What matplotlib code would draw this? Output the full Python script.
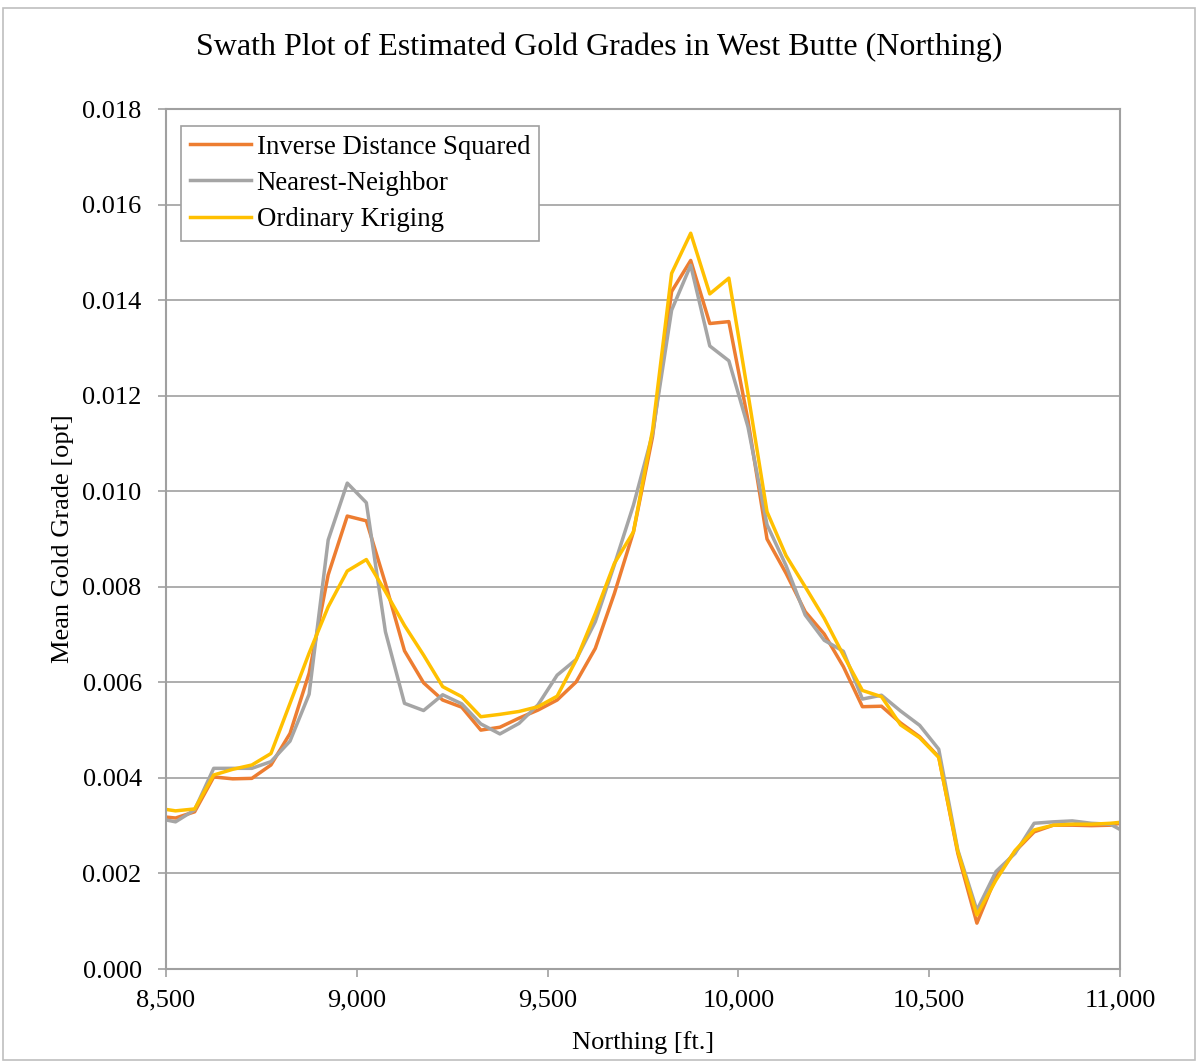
import matplotlib.pyplot as plt
from matplotlib.patches import Rectangle
from matplotlib.ticker import FuncFormatter

plt.rcParams['font.family'] = ['Liberation Serif', 'DejaVu Serif']

# northing (swath centres plus the two end points)
northing = [8500] + [8525 + 50 * i for i in range(50)] + [11000]

# mean gold grades [opt]
ids = [0.00318, 0.00316, 0.00329, 0.00402, 0.00398, 0.00399, 0.00427, 0.00493, 0.00619,
       0.00825, 0.00948, 0.00938, 0.00807, 0.00666, 0.00599, 0.00563, 0.00548, 0.00500,
       0.00506, 0.00525, 0.00542, 0.00563, 0.00601, 0.00671, 0.00786, 0.00915, 0.01114,
       0.01418, 0.01483, 0.01351, 0.01355, 0.01149, 0.00900, 0.00828, 0.00748, 0.00701,
       0.00633, 0.00549, 0.00550, 0.00515, 0.00486, 0.00444, 0.00242, 0.00096, 0.00193,
       0.00246, 0.00287, 0.00301, 0.00301, 0.00300, 0.00301, 0.00305]
nn = [0.00312, 0.00308, 0.00333, 0.00420, 0.00420, 0.00420, 0.00434, 0.00477, 0.00575,
      0.00898, 0.01017, 0.00976, 0.00706, 0.00556, 0.00541, 0.00574, 0.00555, 0.00513,
      0.00492, 0.00514, 0.00553, 0.00615, 0.00648, 0.00727, 0.00846, 0.00971, 0.01120,
      0.01379, 0.01473, 0.01304, 0.01273, 0.01135, 0.00930, 0.00844, 0.00741, 0.00688,
      0.00665, 0.00565, 0.00573, 0.00540, 0.00510, 0.00460, 0.00249, 0.00123, 0.00204,
      0.00242, 0.00305, 0.00308, 0.00310, 0.00305, 0.00303, 0.00292]
ok = [0.00334, 0.00331, 0.00335, 0.00406, 0.00418, 0.00427, 0.00451, 0.00556, 0.00661,
      0.00758, 0.00833, 0.00857, 0.00790, 0.00719, 0.00657, 0.00591, 0.00570, 0.00528,
      0.00533, 0.00539, 0.00549, 0.00571, 0.00647, 0.00744, 0.00849, 0.00915, 0.01128,
      0.01456, 0.01540, 0.01413, 0.01446, 0.01205, 0.00957, 0.00865, 0.00800, 0.00734,
      0.00657, 0.00583, 0.00570, 0.00511, 0.00484, 0.00443, 0.00246, 0.00113, 0.00186,
      0.00248, 0.00291, 0.00301, 0.00303, 0.00303, 0.00305, 0.00307]

fig = plt.figure(figsize=(11.99, 10.62), dpi=100)
ax = fig.add_axes([166 / 1199, 1 - 969 / 1062, (1120 - 166) / 1199, (969 - 109) / 1062])

# chart area border
fig.patches.append(Rectangle((3 / 1199, 2 / 1062), 1192 / 1199, 1052 / 1062,
                             transform=fig.transFigure, fill=False,
                             edgecolor='#BFBFBF', linewidth=1.2))

ax.plot(northing, ids, color='#ED7D31', lw=2.5, label='Inverse Distance Squared')
ax.plot(northing, nn, color='#A5A5A5', lw=2.5, label='Nearest-Neighbor')
ax.plot(northing, ok, color='#FFC000', lw=2.5, label='Ordinary Kriging')

ax.set_xlim(8500, 11000)
ax.set_ylim(0, 0.018)
ax.set_xticks(range(8500, 11001, 500))
ax.set_yticks([i * 0.002 for i in range(10)])
ax.xaxis.set_major_formatter(FuncFormatter(lambda v, p: f'{v:,.0f}'))
ax.yaxis.set_major_formatter(FuncFormatter(lambda v, p: f'{v:.3f}'))

ax.grid(axis='y', color='#A0A0A0', linewidth=1.2)
ax.set_axisbelow(True)
for s in ax.spines.values():
    s.set_color('#A0A0A0')
    s.set_linewidth(1.5)
ax.tick_params(colors='#A0A0A0', labelcolor='black', labelsize=19, length=5.5, width=1.2)
ax.tick_params(axis='y', pad=12)
ax.tick_params(axis='x', pad=9)

fig.text(0.5, 1 - 47 / 1062, 'Swath Plot of Estimated Gold Grades in West Butte (Northing)',
         fontsize=23, ha='center', va='center')
ax.set_xlabel('Northing [ft.]', fontsize=19, labelpad=14)
ax.set_ylabel('Mean Gold Grade [opt]', fontsize=19, labelpad=6)

leg = ax.legend(loc='upper left', bbox_to_anchor=(15 / 954, 843 / 860), borderaxespad=0,
                fontsize=19.3, handlelength=2.3, handletextpad=0.2, labelspacing=0.42,
                borderpad=0.32, fancybox=False, framealpha=1)
leg.get_frame().set_edgecolor('#A0A0A0')
leg.get_frame().set_linewidth(1.2)

fig.savefig('out.png', dpi=100)
